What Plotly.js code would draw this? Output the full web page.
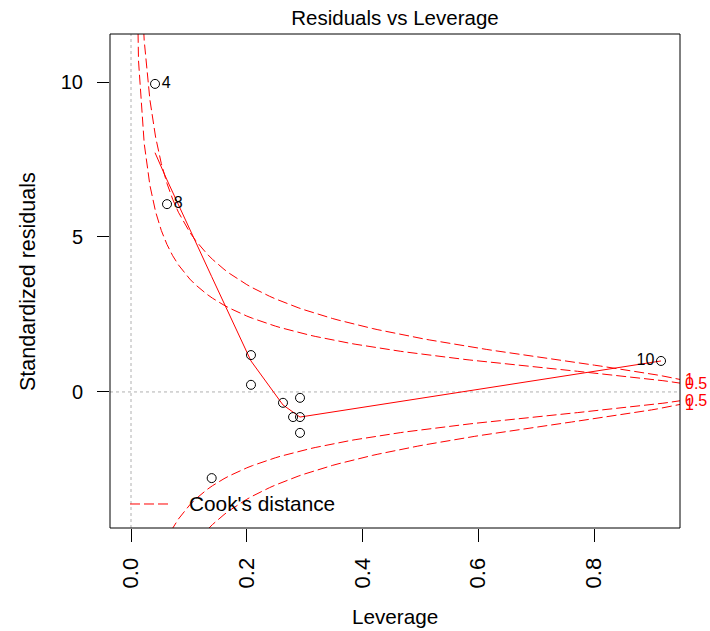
<!DOCTYPE html>
<html>
<head>
<meta charset="utf-8">
<script src="https://cdn.plot.ly/plotly-3.0.1.min.js"></script>
<style>html,body{margin:0;padding:0;background:#fff;}#plot{width:710px;height:631px;}</style>
</head>
<body>
<div id="plot"></div>
<script>
const leverage = [0.0415, 0.0622, 0.2073, 0.2073, 0.2626, 0.2920, 0.2800, 0.2920, 0.2920, 0.1394, 0.9158];
const stdResid = [9.94, 6.06, 1.19, 0.23, -0.35, -0.19, -0.81, -0.81, -1.32, -2.78, 1.00];
const obsLabels = ["4", "8", "", "", "", "", "", "", "", "", "10"];
const labelSide = ["middle right", "middle right", "middle right", "middle right", "middle right", "middle right", "middle right", "middle right", "middle right", "middle right", "middle left"];

// Smoother (red solid line)
const smoothX = [0.0415, 0.0622, 0.1394, 0.2073, 0.2626, 0.2800, 0.2920, 0.9158];
const smoothY = [7.72, 6.84, 3.72, 1.00, -0.42, -0.65, -0.81, 1.00];

// Cook's distance contour settings
const cookLevels = [0.5, 1];
const nParams = 3;
const legendText = "Cook's distance";
const xRange = [-0.0363, 0.9486];
const yRange = [-4.39, 11.55];
const xTicks = [0, 0.2, 0.4, 0.6, 0.8];
const xTickText = ["0.0", "0.2", "0.4", "0.6", "0.8"];
const yTicks = [0, 5, 10];
const yTickText = ["0", "5", "10"];

const RED = "#FF0000";
const FONT = "Liberation Sans, Arial, sans-serif";
const DASH = "10px,4px";

// Cook's distance contours (as drawn by R's plot.lm)
const hh = [];
for (let i = 0; i <= 100; i++) hh.push(xRange[0] + (xRange[1] - xRange[0]) * i / 100);
const traces = [];
cookLevels.forEach((lev) => {
  [1, -1].forEach((sgn) => {
    const xs = [], ys = [];
    hh.forEach(h => { if (h > 0) { xs.push(h); ys.push(sgn * Math.sqrt(lev * nParams * (1 - h) / h)); } });
    traces.push({
      x: xs, y: ys, type: "scatter", mode: "lines",
      line: {color: RED, width: 1, dash: DASH},
      name: legendText, showlegend: false, hoverinfo: "skip"
    });
  });
});

traces.push({
  x: smoothX, y: smoothY, type: "scatter", mode: "lines",
  line: {color: RED, width: 1}, showlegend: false, hoverinfo: "skip"
});

traces.push({
  x: leverage, y: stdResid, type: "scatter", mode: "markers+text",
  text: obsLabels, textposition: labelSide,
  textfont: {family: FONT, size: 16, color: "#000"},
  marker: {symbol: "circle-open", size: 9, color: "#000", line: {width: 1, color: "#000"}},
  showlegend: false, cliponaxis: false
});

// right-side Cook's labels
const xmax = Math.min(0.99, xRange[1]);
const ymult = Math.sqrt(nParams * (1 - xmax) / xmax);
const annotations = [];
const atY = [], atLab = [];
cookLevels.slice().reverse().forEach(l => { atY.push(-Math.sqrt(l) * ymult); atLab.push(String(l)); });
cookLevels.forEach(l => { atY.push(Math.sqrt(l) * ymult); atLab.push(String(l)); });
atY.forEach((v, i) => annotations.push({
  xref: "paper", yref: "y", x: 1, y: v, text: atLab[i], showarrow: false,
  xanchor: "left", yanchor: "middle", xshift: 3,
  font: {family: FONT, size: 16, color: RED}
}));

annotations.push({
  xref: "paper", yref: "paper", x: 0.5, y: -0.180, text: "Leverage", showarrow: false,
  xanchor: "center", yanchor: "middle", font: {family: FONT, size: 20.7, color: "#000"}
});
annotations.push({
  xref: "paper", yref: "paper", x: -0.1439, y: 0.5, text: "Standardized residuals", showarrow: false,
  textangle: -90, xanchor: "center", yanchor: "middle", font: {family: FONT, size: 21.5, color: "#000"}
});
// legend (drawn manually, R style)
annotations.push({
  xref: "paper", yref: "paper", x: 0.1351, y: 0.0486, text: legendText, showarrow: false,
  xanchor: "left", yanchor: "middle", font: {family: FONT, size: 20.8, color: "#000"}
});

const layout = {
  width: 710, height: 631,
  margin: {l: 110, r: 30, t: 34, b: 103},
  paper_bgcolor: "#fff", plot_bgcolor: "#fff",
  font: {family: FONT, size: 20, color: "#000"},
  title: {text: "Residuals vs Leverage", x: 0.5, xref: "paper", y: 1 - 18 / 631, yref: "container",
          xanchor: "center", yanchor: "middle", font: {family: FONT, size: 20.5, color: "#000"}},
  xaxis: {range: xRange, tickvals: xTicks, ticktext: xTickText, tickangle: -90,
          ticks: "outside", ticklen: 13, tickwidth: 1, tickcolor: "#000",
          ticklabelstandoff: 7, showgrid: false, zeroline: false, showline: false,
          tickfont: {family: FONT, size: 22, color: "#000"}},
  yaxis: {range: yRange, tickvals: yTicks, ticktext: yTickText,
          ticks: "outside", ticklen: 12, tickwidth: 1, tickcolor: "#000",
          ticklabelstandoff: 10, showgrid: false, zeroline: false, showline: false,
          tickfont: {family: FONT, size: 20, color: "#000"}},
  showlegend: false,
  shapes: [
    {type: "line", xref: "paper", yref: "y", x0: 0, x1: 1, y0: 0, y1: 0, line: {color: "#b0b0b0", width: 1, dash: "dot"}, layer: "below"},
    {type: "line", xref: "x", yref: "paper", x0: 0, x1: 0, y0: 0, y1: 1, line: {color: "#b0b0b0", width: 1, dash: "dot"}, layer: "below"},
    {type: "line", xref: "paper", yref: "paper", x0: 0.0351, x1: 0.1018, y0: 0.0486, y1: 0.0486, line: {color: RED, width: 1, dash: DASH}},
    {type: "rect", xref: "paper", yref: "paper", x0: 0, x1: 1, y0: 0, y1: 1, line: {color: "#000", width: 1}}
  ],
  annotations: annotations
};

Plotly.newPlot("plot", traces, layout, {displayModeBar: false, staticPlot: true});
</script>
</body>
</html>
